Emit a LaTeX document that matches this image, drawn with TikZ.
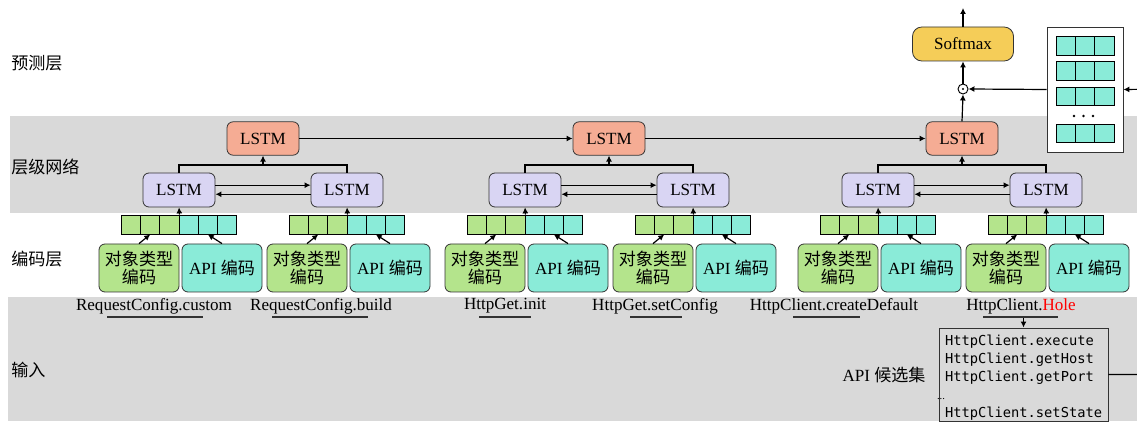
\documentclass[tikz,border=0pt]{standalone}
\usepackage{fontspec}
\setmainfont{Liberation Serif}
\setmonofont{DejaVu Sans Mono}
\newfontfamily\cjk{Noto Sans CJK SC}
\usetikzlibrary{arrows.meta,calc}
\definecolor{salmon}{HTML}{F5AC94}
\definecolor{lav}{HTML}{D9D5F3}
\definecolor{grn}{HTML}{B4E48C}
\definecolor{tealc}{HTML}{8AEBD8}
\definecolor{band}{HTML}{D9D9D9}
\definecolor{yel}{HTML}{F5CD58}
\definecolor{edge}{HTML}{333333}
\tikzset{
  box/.style={draw=edge, line width=0.6pt, rounded corners=4.5pt, inner sep=0pt, align=center},
  lstmtop/.style={box, fill=salmon, minimum width=54pt, minimum height=25pt},
  lstmlow/.style={box, fill=lav, minimum width=54pt, minimum height=25.5pt},
  objbox/.style={box, fill=grn, minimum width=60pt, minimum height=36pt},
  apibox/.style={box, fill=tealc, minimum width=60pt, minimum height=36pt},
  cellg/.style={draw=black, line width=0.6pt, fill=grn, minimum width=14.375pt, minimum height=14.25pt, inner sep=0pt},
  cellt/.style={draw=black, line width=0.6pt, fill=tealc, minimum width=14.375pt, minimum height=14.25pt, inner sep=0pt},
  mcell/.style={draw=black, line width=0.6pt, fill=tealc, minimum width=14.5pt, minimum height=13.9pt, inner sep=0pt},
  arr/.style={line width=0.9pt, -{Latex[length=4.5pt,width=4.5pt]}},
  conn/.style={line width=0.9pt},
  lbl/.style={anchor=west, inner sep=0pt},
  uline/.style={line width=0.8pt, draw=edge},
}
\begin{document}
\begin{tikzpicture}[x=0.75pt,y=-0.75pt, font=\fontsize{12.8}{15}\selectfont]
\useasboundingbox (0,0) rectangle (1137,423);
% bands
\fill[band] (10,116) rectangle (1137,213);
\fill[band] (8,297) rectangle (1137,421);
% left labels
\node[lbl] (lp) at (11,63) {\cjk 预测层};
\node[lbl] (lh) at (11,167) {\cjk 层级网络};
\node[lbl] (le) at (11,259) {\cjk 编码层};
\node[lbl] (li) at (11,370) {\cjk 输入};
% lower units
\foreach \n/\c in {1/179,2/347,3/525,4/693,5/878,6/1046} {
  \node[lstmlow] (low\n) at (\c,190) {LSTM};
  \node[objbox] (obj\n) at (\c-40,268) {{\cjk 对象类型}\\[-1pt]{\cjk 编码}};
  \node[apibox] (api\n) at (\c+43,268) {API {\cjk 编码}};
  \foreach \i in {1,2,3} {
    \node[cellg] (v\n-\i) at (\c-57.5+19.17*\i-9.585,224.5) {};
  }
  \foreach \i in {4,5,6} {
    \node[cellt] (v\n-\i) at (\c-57.5+19.17*\i-9.585,224.5) {};
  }
  \draw[arr] (v\n-3.north east) -- (low\n.south);
  \draw[arr] (obj\n.north) -- (v\n-2.south);
  \draw[arr] (api\n.north) -- (v\n-5.south);
}
% top LSTMs
\node[lstmtop] (top1) at (263,138.5) {LSTM};
\node[lstmtop] (top2) at (609,138.5) {LSTM};
\node[lstmtop] (top3) at (962,138.5) {LSTM};
\draw[arr] (top1.east) -- (top2.west);
\draw[arr] (top2.east) -- (top3.west);
% hierarchy joins and bidirectional links
\foreach \g/\a/\b/\m in {1/1/2/263,2/3/4/609,3/5/6/962} {
  \coordinate (j\g) at (\m,165);
  \draw[conn] (low\a.north) |- (j\g) -| (low\b.north);
  \draw[arr] (j\g) -- (top\g.south);
  \draw[arr] ([yshift=3.6pt]low\a.east) -- ([yshift=3.6pt]low\b.west);
  \draw[arr] ([yshift=-3.2pt]low\b.west) -- ([yshift=-3.2pt]low\a.east);
}
% prediction
\node[box, fill=yel, rounded corners=7pt, minimum width=75.75pt, minimum height=25.5pt] (sm) at (963,44) {Softmax};
\node[circle, draw=black, fill=white, line width=0.7pt, inner sep=0pt, minimum size=7.5pt] (dot) at (963,89) {};
\fill (dot.center) circle (0.9pt);
\coordinate (out) at (963,8);
\draw[arr] (top3.north) -- (dot.south);
\draw[arr] (dot.north) -- (sm.south);
\draw[arr] (sm.north) -- (out);
% candidate embedding matrix
\node[draw=edge, fill=white, line width=0.6pt, minimum width=57pt, minimum height=93.75pt, inner sep=0pt] (mat) at (1085,89.5) {};
\foreach \r/\y in {1/46,2/71,3/96.5,4/133.5} {
  \foreach \k/\x in {1/1065.7,2/1085,3/1104.3} {
    \node[mcell] (m\r-\k) at (\x,\y) {};
  }
}
\foreach \x in {1074,1083.5,1093} { \fill (\x,116) circle (1pt); }
\draw[arr] (mat.west) -- (dot.east);
% input labels
\node (t1) at (154,306) {RequestConfig.custom};
\node (t2) at (321,306) {RequestConfig.build};
\node (t3) at (505,306) {HttpGet.init};
\node (t4) at (655,306) {HttpGet.setConfig};
\node (t5) at (834,306) {HttpClient.createDefault};
\node (t6) at (1021,306) {HttpClient.\textcolor{red}{Hole}};
\draw[uline] (107,317) -- (203,317);
\draw[uline] (272,317) -- (368,317);
\draw[uline] (479,317) -- (531,317);
\draw[uline] (630,317) -- (682,317);
\draw[uline] (793,317) -- (860,317);
\draw[uline] (983,317) -- (1058,317);
% candidate set
\node[draw=edge, line width=0.7pt, inner xsep=4.5pt, inner ysep=0pt, minimum height=69.75pt, text width=117.75pt, align=left,
  font=\ttfamily\fontsize{10.3}{13.5}\selectfont] (cand) at (1023.5,374.5)
  {\rule{0pt}{12.5pt}HttpClient.execute\\HttpClient.getHost\\HttpClient.getPort\\\hspace*{-6pt}{\rmfamily\fontsize{8}{13.5}\selectfont...}\\HttpClient.setState};
\coordinate (hole) at (1023.5,318);
\draw[arr] (hole) -- (cand.north);
\node (candlbl) at (884,375) {API {\cjk 候选集}};
\coordinate (ext2) at (1170,89);
\draw[arr] (cand.east) -| (ext2) -- (mat.east);
\end{tikzpicture}
\end{document}
